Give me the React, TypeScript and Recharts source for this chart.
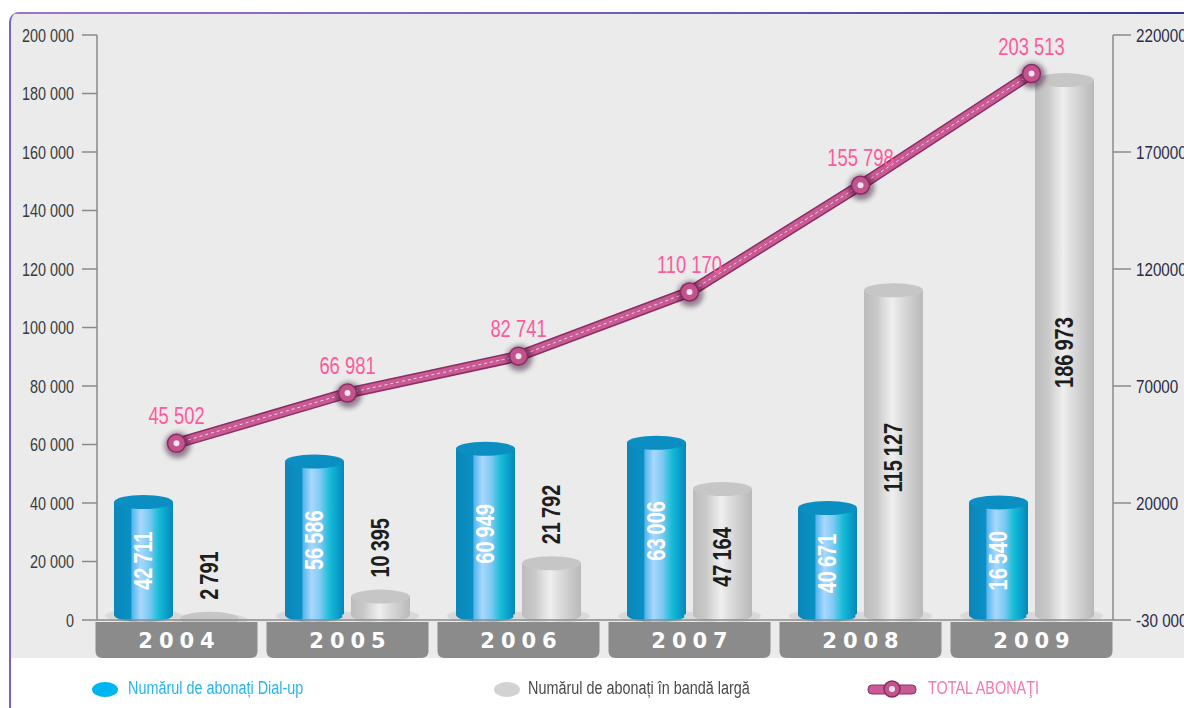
import { ComposedChart, Bar, Line, XAxis, YAxis, LabelList } from 'recharts';

const years = ['2004', '2005', '2006', '2007', '2008', '2009'];
// bar heights as drawn in the picture (the 2009 dial-up cylinder is drawn at ~42 600)
const dialUp = [42711, 56586, 60949, 63006, 40671, 42600];
// numbers printed on the dial-up cylinders
const dialUpLabels = [42711, 56586, 60949, 63006, 40671, 16540];
const broadband = [2791, 10395, 21792, 47164, 115127, 186973];
const total = [45502, 66981, 82741, 110170, 155798, 203513];

const leftTicks = [0, 20000, 40000, 60000, 80000, 100000, 120000, 140000, 160000, 180000, 200000];
const rightTicks = [-30000, 20000, 70000, 120000, 170000, 220000];

const data = years.map((year, i) => ({
  year,
  dialUp: dialUp[i],
  dialLabel: dialUpLabels[i],
  broadband: broadband[i],
  total: total[i],
}));

// no condensed face installed, so text is squeezed horizontally
const SANS = "'Liberation Sans', Arial, sans-serif";
const SQUEEZE = 0.8;
const PLOT_BOTTOM = 612;

function group(v: number, sep = ' ') {
  return String(v).replace(/\B(?=(\d{3})+(?!\d))/g, sep);
}

function NarrowText({ x, y, rotate = 0, anchor = 'middle', baseline = 'auto', children, ...rest }: any) {
  return (
    <text transform={`translate(${x},${y}) rotate(${rotate}) scale(${SQUEEZE},1)`} x={0} y={0}
      textAnchor={anchor} dominantBaseline={baseline} fontFamily={SANS} {...rest}>
      {children}
    </text>
  );
}

function Cylinder(props: any) {
  const { x, y, width, height, kind } = props;
  if (width == null || height == null) return null;
  const ry = 7;
  const topCy = y + ry;
  const botCy = Math.max(topCy, y + height - ry + 2);
  const x2 = x + width;
  const body = `M${x},${topCy} L${x},${botCy} A${width / 2},${ry} 0 0 0 ${x2},${botCy} L${x2},${topCy} Z`;
  const blue = kind === 'blue';
  return (
    <g>
      <ellipse cx={x + width / 2} cy={botCy + 1} rx={width / 2 + 9} ry={ry} fill="#d9d9d9" />
      <path d={body} fill={blue ? 'url(#cylBlue)' : 'url(#cylGrey)'} />
      <ellipse cx={x + width / 2} cy={topCy} rx={width / 2} ry={ry} fill={blue ? '#0b8fc3' : '#c6c6c6'} />
    </g>
  );
}

function DialLabel(p: any) {
  const cx = p.x + p.width / 2;
  const cy = p.y + p.height / 2 + 3;
  return (
    <NarrowText x={cx} y={cy} rotate={-90} baseline="central" fill="#ffffff" fontWeight="bold" fontSize={25}>
      {group(p.value, '\u2009')}
    </NarrowText>
  );
}

function BroadLabel(p: any) {
  const cx = p.x + p.width / 2;
  const small = p.value < 30000;
  const cy = small ? p.y - 12 : p.y + p.height / 2 + 6;
  return (
    <NarrowText x={cx} y={cy} rotate={-90} anchor={small ? 'start' : 'middle'} baseline="central"
      fill="#1e1e1e" fontWeight="bold" fontSize={25}>
      {group(p.value, '\u2009')}
    </NarrowText>
  );
}

function TotalLabel(p: any) {
  return (
    <NarrowText x={p.x} y={p.y - 19} fill="#ff5a9c" fontSize={23}>
      {group(p.value)}
    </NarrowText>
  );
}

function TotalDot(p: any) {
  const { cx, cy } = p;
  if (cx == null || cy == null) return null;
  return (
    <g>
      <circle cx={cx + 1} cy={cy + 2} r={13} fill="rgba(40,10,30,0.45)" filter="url(#dotBlur)" />
      <circle cx={cx} cy={cy} r={9} fill="#c2538d" stroke="#8a2b62" strokeWidth={1.5} />
      <circle cx={cx} cy={cy} r={3} fill="#f4e4ee" />
    </g>
  );
}

function LeftTick(p: any) {
  return (
    <NarrowText x={p.x} y={p.y} anchor="end" baseline="central" fill="#3a3a3a" fontSize={18}>
      {group(p.payload.value)}
    </NarrowText>
  );
}

function RightTick(p: any) {
  const v = p.payload.value;
  return (
    <NarrowText x={p.x} y={p.y} anchor="start" baseline="central" fill="#2c2c48" fontSize={19}>
      {v < 0 ? '-' + group(-v) : String(v)}
    </NarrowText>
  );
}

function YearTab(p: any) {
  const { x } = p;
  const w = 162;
  const top = PLOT_BOTTOM + 2;
  const bot = PLOT_BOTTOM + 38;
  const r = 7;
  const l = x - w / 2;
  const rr = x + w / 2;
  const d = `M${l},${top} L${rr},${top} L${rr},${bot - r} Q${rr},${bot} ${rr - r},${bot} L${l + r},${bot} Q${l},${bot} ${l},${bot - r} Z`;
  return (
    <g>
      <path d={d} fill="#8b8b8b" />
      <text x={x + 3} y={top + 26} textAnchor="middle" fill="#ffffff" fontWeight="bold" fontSize={21}
        letterSpacing={6} fontFamily="'DejaVu Sans', Verdana, sans-serif">
        {p.payload.value}
      </text>
    </g>
  );
}

const legendText = (color: string): any => ({
  position: 'absolute', top: 0, color, fontFamily: SANS, fontSize: 18, whiteSpace: 'nowrap',
  transform: `scaleX(${SQUEEZE})`, transformOrigin: 'left center',
});

export default function App() {
  return (
    <div style={{ position: 'relative', width: 1184, height: 700, background: '#fff' }}>
      <svg width={0} height={0} style={{ position: 'absolute' }}>
        <defs>
          <linearGradient id="cylBlue" x1="0" y1="0" x2="1" y2="0">
            <stop offset="0%" stopColor="#0a86b8" />
            <stop offset="28%" stopColor="#0b90c4" />
            <stop offset="31%" stopColor="#58b6ee" />
            <stop offset="45%" stopColor="#a9d8ff" />
            <stop offset="60%" stopColor="#7ccaf2" />
            <stop offset="76%" stopColor="#16bcd6" />
            <stop offset="90%" stopColor="#0a9dca" />
            <stop offset="100%" stopColor="#0886b8" />
          </linearGradient>
          <linearGradient id="cylGrey" x1="0" y1="0" x2="1" y2="0">
            <stop offset="0%" stopColor="#bcbcbc" />
            <stop offset="22%" stopColor="#c9c9c9" />
            <stop offset="34%" stopColor="#dcdcdc" />
            <stop offset="48%" stopColor="#efefef" />
            <stop offset="62%" stopColor="#dedede" />
            <stop offset="84%" stopColor="#c8c8c8" />
            <stop offset="100%" stopColor="#b9b9b9" />
          </linearGradient>
          <filter id="dotBlur" x="-50%" y="-50%" width="200%" height="200%">
            <feGaussianBlur stdDeviation="2.5" />
          </filter>
        </defs>
      </svg>

      <div style={{
        position: 'absolute', left: 1, top: 4, width: 1183, height: 696,
        borderLeft: '2px solid #7a62c2', borderTopLeftRadius: 10, overflow: 'hidden',
        background: 'linear-gradient(to bottom, #ebebeb 0px, #ebebeb 646px, #ffffff 646px)',
      }}>
        <div style={{ height: 2, background: 'linear-gradient(to right, #a272c8, #6a58b8 60%, #34349c)' }} />
      </div>

      <div style={{ position: 'absolute', left: 0, top: 0 }}>
        <ComposedChart width={1184} height={660} data={data}
          margin={{ top: 27, right: 0, bottom: 8, left: 0 }} barSize={59} barGap={7}>
          <XAxis dataKey="year" height={40} tickLine={false} padding={{ left: -6, right: -4 }}
            axisLine={{ stroke: '#8a8a8a', strokeWidth: 1.5 }} tick={<YearTab />} interval={0} />
          <YAxis yAxisId="left" orientation="left" width={89} domain={[0, 200000]} ticks={leftTicks}
            interval={0} tickSize={15} tickMargin={8}
            axisLine={{ stroke: '#8a8a8a', strokeWidth: 1.5 }} tickLine={{ stroke: '#8a8a8a', strokeWidth: 1.5 }}
            tick={<LeftTick />} />
          <YAxis yAxisId="right" orientation="right" width={79} domain={[-30000, 220000]} ticks={rightTicks}
            interval={0} tickSize={18} tickMargin={5}
            axisLine={{ stroke: '#8a8a8a', strokeWidth: 1.5 }} tickLine={{ stroke: '#8a8a8a', strokeWidth: 1.5 }}
            tick={<RightTick />} />

          <Bar yAxisId="left" dataKey="dialUp" isAnimationActive={false}
            shape={(p: any) => <Cylinder {...p} kind="blue" />}>
            <LabelList dataKey="dialLabel" content={<DialLabel />} />
          </Bar>
          <Bar yAxisId="left" dataKey="broadband" isAnimationActive={false}
            shape={(p: any) => <Cylinder {...p} kind="grey" />}>
            <LabelList dataKey="broadband" content={<BroadLabel />} />
          </Bar>

          <Line yAxisId="right" dataKey="total" stroke="#8c2e64" strokeWidth={11} dot={false}
            activeDot={false} isAnimationActive={false} />
          <Line yAxisId="right" dataKey="total" stroke="#c85a94" strokeWidth={8} dot={false}
            activeDot={false} isAnimationActive={false} />
          <Line yAxisId="right" dataKey="total" stroke="#f6d2e4" strokeWidth={1} strokeDasharray="3 3"
            dot={<TotalDot />} activeDot={false} isAnimationActive={false}>
            <LabelList dataKey="total" content={<TotalLabel />} />
          </Line>
        </ComposedChart>
      </div>

      <div style={{ position: 'absolute', left: 0, top: 670, width: 1184, height: 26 }}>
        <div style={{ position: 'absolute', left: 84, top: 4, width: 26, height: 15, borderRadius: '50%', background: '#00b6f0' }} />
        <div style={{ ...legendText('#28b4ea'), left: 120 }}>Numărul de abonați Dial-up</div>

        <div style={{ position: 'absolute', left: 486, top: 4, width: 26, height: 15, borderRadius: '50%', background: '#d2d2d2' }} />
        <div style={{ ...legendText('#4a4a4a'), left: 520 }}>Numărul de abonați în bandă largă</div>

        <svg style={{ position: 'absolute', left: 858, top: 0 }} width={52} height={22}>
          <rect x={2} y={7} width={48} height={9} rx={4} fill="#c85a94" stroke="#8c2e64" strokeWidth={1} />
          <circle cx={26} cy={11} r={8} fill="#c2538d" stroke="#8a2b62" strokeWidth={1.5} />
          <circle cx={26} cy={11} r={3} fill="#f4e4ee" />
        </svg>
        <div style={{ ...legendText('#f47ab0'), left: 920 }}>TOTAL ABONAŢI</div>
      </div>
    </div>
  );
}
